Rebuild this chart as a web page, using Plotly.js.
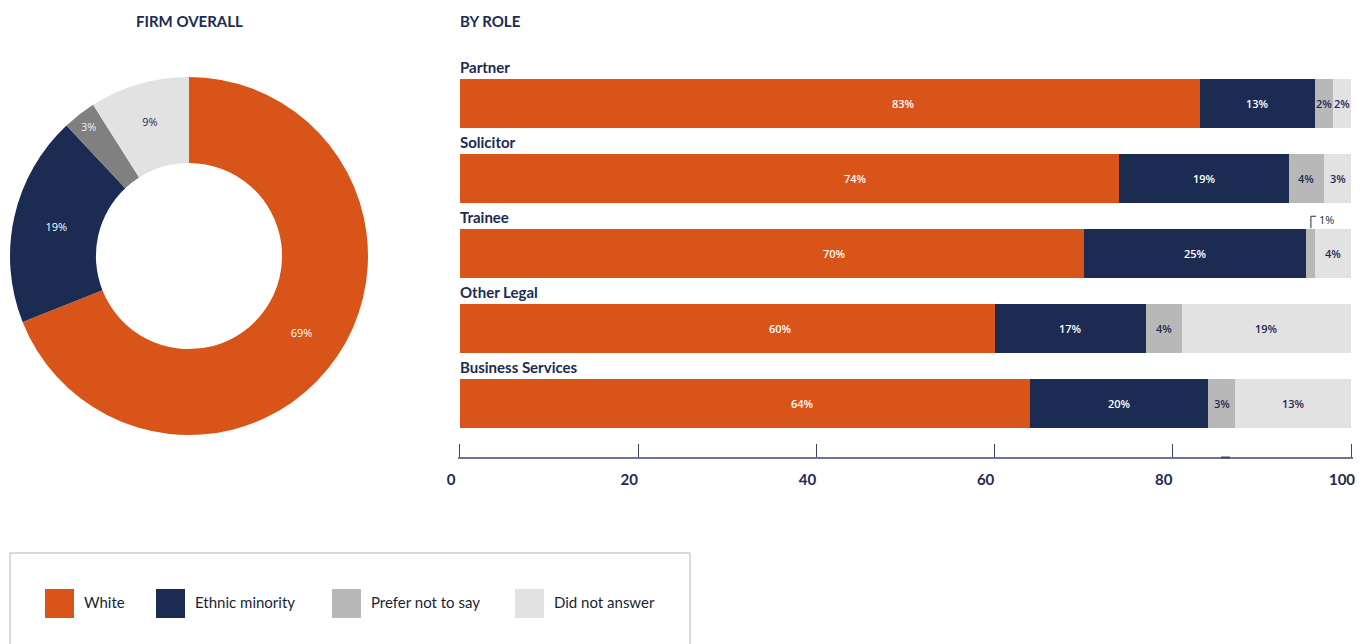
<!DOCTYPE html>
<html>
<head>
<meta charset="utf-8">
<script src="https://cdn.plot.ly/plotly-3.0.1.min.js"></script>
<style>html,body{margin:0;padding:0;background:#fff;}#chart{width:1364px;height:644px;}</style>
</head>
<body>
<div id="chart"></div>
<script>
// ---- data ----
const categories = ['Partner', 'Solicitor', 'Trainee', 'Other Legal', 'Business Services'];
const seriesNames = ['White', 'Ethnic minority', 'Prefer not to say', 'Did not answer'];
const white = [83, 74, 70, 60, 64];
const ethnicMinority = [13, 19, 25, 17, 20];
const preferNotToSay = [2, 4, 1, 4, 3];
const didNotAnswer = [2, 3, 4, 19, 13];
const firmOverall = [69, 19, 3, 9];
const xTickVals = [0, 20, 40, 60, 80, 100];
const xTickText = ['0', '20', '40', '60', '80', '100'];

// ---- styles ----
const W = 1364, H = 644;
const FONT = 'Lato, "Noto Sans", sans-serif';
const LABEL_FONT = '"Open Sans", "Noto Sans", sans-serif';
const NAVY = '#1b2b52';
const barColors = ['#d95419', '#1b2b52', '#b8b8b8', '#e2e2e2'];
const pieColors = ['#d95419', '#1b2b52', '#808080', '#e2e2e2'];
const barTextColors = ['#ffffff', '#ffffff', NAVY, NAVY];
const pieTextColors = ['#ffffff', '#ffffff', '#f0f0f0', NAVY];
const labelFrac = [0.6, 0.5, 0.5, 0.5];   // where the label sits inside each segment
const px = x => x / W;
const py = y => 1 - y / H;

const seriesValues = [white, ethnicMinority, preferNotToSay, didNotAnswer];
const MIN_INSIDE = 2;

const traces = [];
seriesValues.forEach((vals, i) => {
  traces.push({
    type: 'bar',
    orientation: 'h',
    name: seriesNames[i],
    y: categories,
    x: vals,
    textposition: 'none',
    marker: {color: barColors[i], line: {width: 0}},
    hoverinfo: 'skip',
    showlegend: false,
    xaxis: 'x', yaxis: 'y'
  });
});

traces.push({
  type: 'pie',
  labels: seriesNames,
  values: firmOverall,
  sort: false,
  direction: 'clockwise',
  rotation: 0,
  hole: 0.52,
  marker: {colors: pieColors, line: {width: 0}},
  textinfo: 'text',
  text: firmOverall.map(v => v + '%'),
  textposition: 'inside',
  insidetextorientation: 'horizontal',
  textfont: {family: LABEL_FONT, size: 11, color: pieTextColors},
  domain: {x: [px(10), px(368)], y: [py(435), py(77)]},
  showlegend: false,
  hoverinfo: 'skip'
});

const annotations = [];
const shapes = [];

// Panel titles
annotations.push({xref: 'paper', yref: 'paper', x: px(190), y: py(21), xanchor: 'center', yanchor: 'middle',
  text: '<b>FIRM OVERALL</b>', showarrow: false, font: {family: FONT, size: 15, color: NAVY}});
annotations.push({xref: 'paper', yref: 'paper', x: px(458), y: py(21), xanchor: 'left', yanchor: 'middle',
  text: '<b>BY ROLE</b>', showarrow: false, font: {family: FONT, size: 15, color: NAVY}});

// Category labels above bars
categories.forEach(c => {
  annotations.push({xref: 'x', yref: 'y', x: 0, y: c, xanchor: 'left', yanchor: 'middle', yshift: 36, xshift: -2,
    text: '<b>' + c + '</b>', showarrow: false, font: {family: FONT, size: 15, color: NAVY}});
});

// Segment value labels
categories.forEach((c, k) => {
  let start = 0;
  seriesValues.forEach((vals, i) => {
    const v = vals[k];
    if (v >= MIN_INSIDE) {
      annotations.push({xref: 'x', yref: 'y', x: start + v * labelFrac[i], y: c, xanchor: 'center', yanchor: 'middle',
        text: v + '%', showarrow: false, font: {family: LABEL_FONT, size: 11, weight: 600, color: barTextColors[i]}});
    } else {
      // small segment: label outside with a bracket
      const mid = start + v / 2;
      shapes.push({type: 'path', xref: 'x', yref: 'y', xsizemode: 'pixel', ysizemode: 'pixel',
        xanchor: mid, yanchor: c, path: 'M0,25 L0,37 L5,37', line: {color: NAVY, width: 1}});
      annotations.push({xref: 'x', yref: 'y', x: mid, y: c, xanchor: 'left', yanchor: 'middle', xshift: 6, yshift: 34,
        text: v + '%', showarrow: false, font: {family: LABEL_FONT, size: 11, color: NAVY}});
    }
    start += v;
  });
});

// small darker mark on the axis line (as in the reference)
shapes.push({type: 'line', xref: 'paper', yref: 'paper', x0: px(1221), x1: px(1230), y0: py(457.5), y1: py(457.5),
  line: {color: '#3d4766', width: 2}});

// Legend box
shapes.push({type: 'rect', xref: 'paper', yref: 'paper', x0: px(10), x1: px(690), y0: py(660), y1: py(553),
  line: {color: '#aeb5c6', width: 1}, fillcolor: 'rgba(0,0,0,0)'});
const legendX = [45, 156, 332, 515];
seriesNames.forEach((n, i) => {
  shapes.push({type: 'rect', xref: 'paper', yref: 'paper', x0: px(legendX[i]), x1: px(legendX[i] + 29),
    y0: py(618), y1: py(589), line: {width: 0}, fillcolor: barColors[i]});
  annotations.push({xref: 'paper', yref: 'paper', x: px(legendX[i] + 37), y: py(602), xanchor: 'left', yanchor: 'middle',
    text: n, showarrow: false, font: {family: FONT, size: 15, color: '#1a1f33'}});
});

const layout = {
  width: W, height: H,
  margin: {l: 0, r: 0, t: 0, b: 0},
  paper_bgcolor: '#ffffff', plot_bgcolor: '#ffffff',
  barmode: 'stack',
  bargap: 0.347,
  showlegend: false,
  xaxis: {
    domain: [px(458.2), px(1352.8)],
    range: [-0.2, 100.2],
    tickvals: xTickVals, ticktext: xTickText,
    showline: true, linecolor: '#6e7791', linewidth: 2,
    ticks: 'inside', ticklen: 13, tickwidth: 1, tickcolor: '#3a4462',
    tickfont: {family: FONT, size: 15, color: NAVY, weight: 'bold'},
    ticklabelstandoff: 8,
    ticklabelshift: -9,
    showgrid: false, zeroline: false, fixedrange: true
  },
  yaxis: {
    domain: [py(457), py(66)],
    type: 'category', categoryorder: 'array', categoryarray: categories,
    range: [4.72, -0.5],
    showticklabels: false, showgrid: false, zeroline: false, showline: false, ticks: '', fixedrange: true
  },
  annotations: annotations,
  shapes: shapes
};

Plotly.newPlot('chart', traces, layout, {displayModeBar: false, staticPlot: true});
</script>
</body>
</html>
